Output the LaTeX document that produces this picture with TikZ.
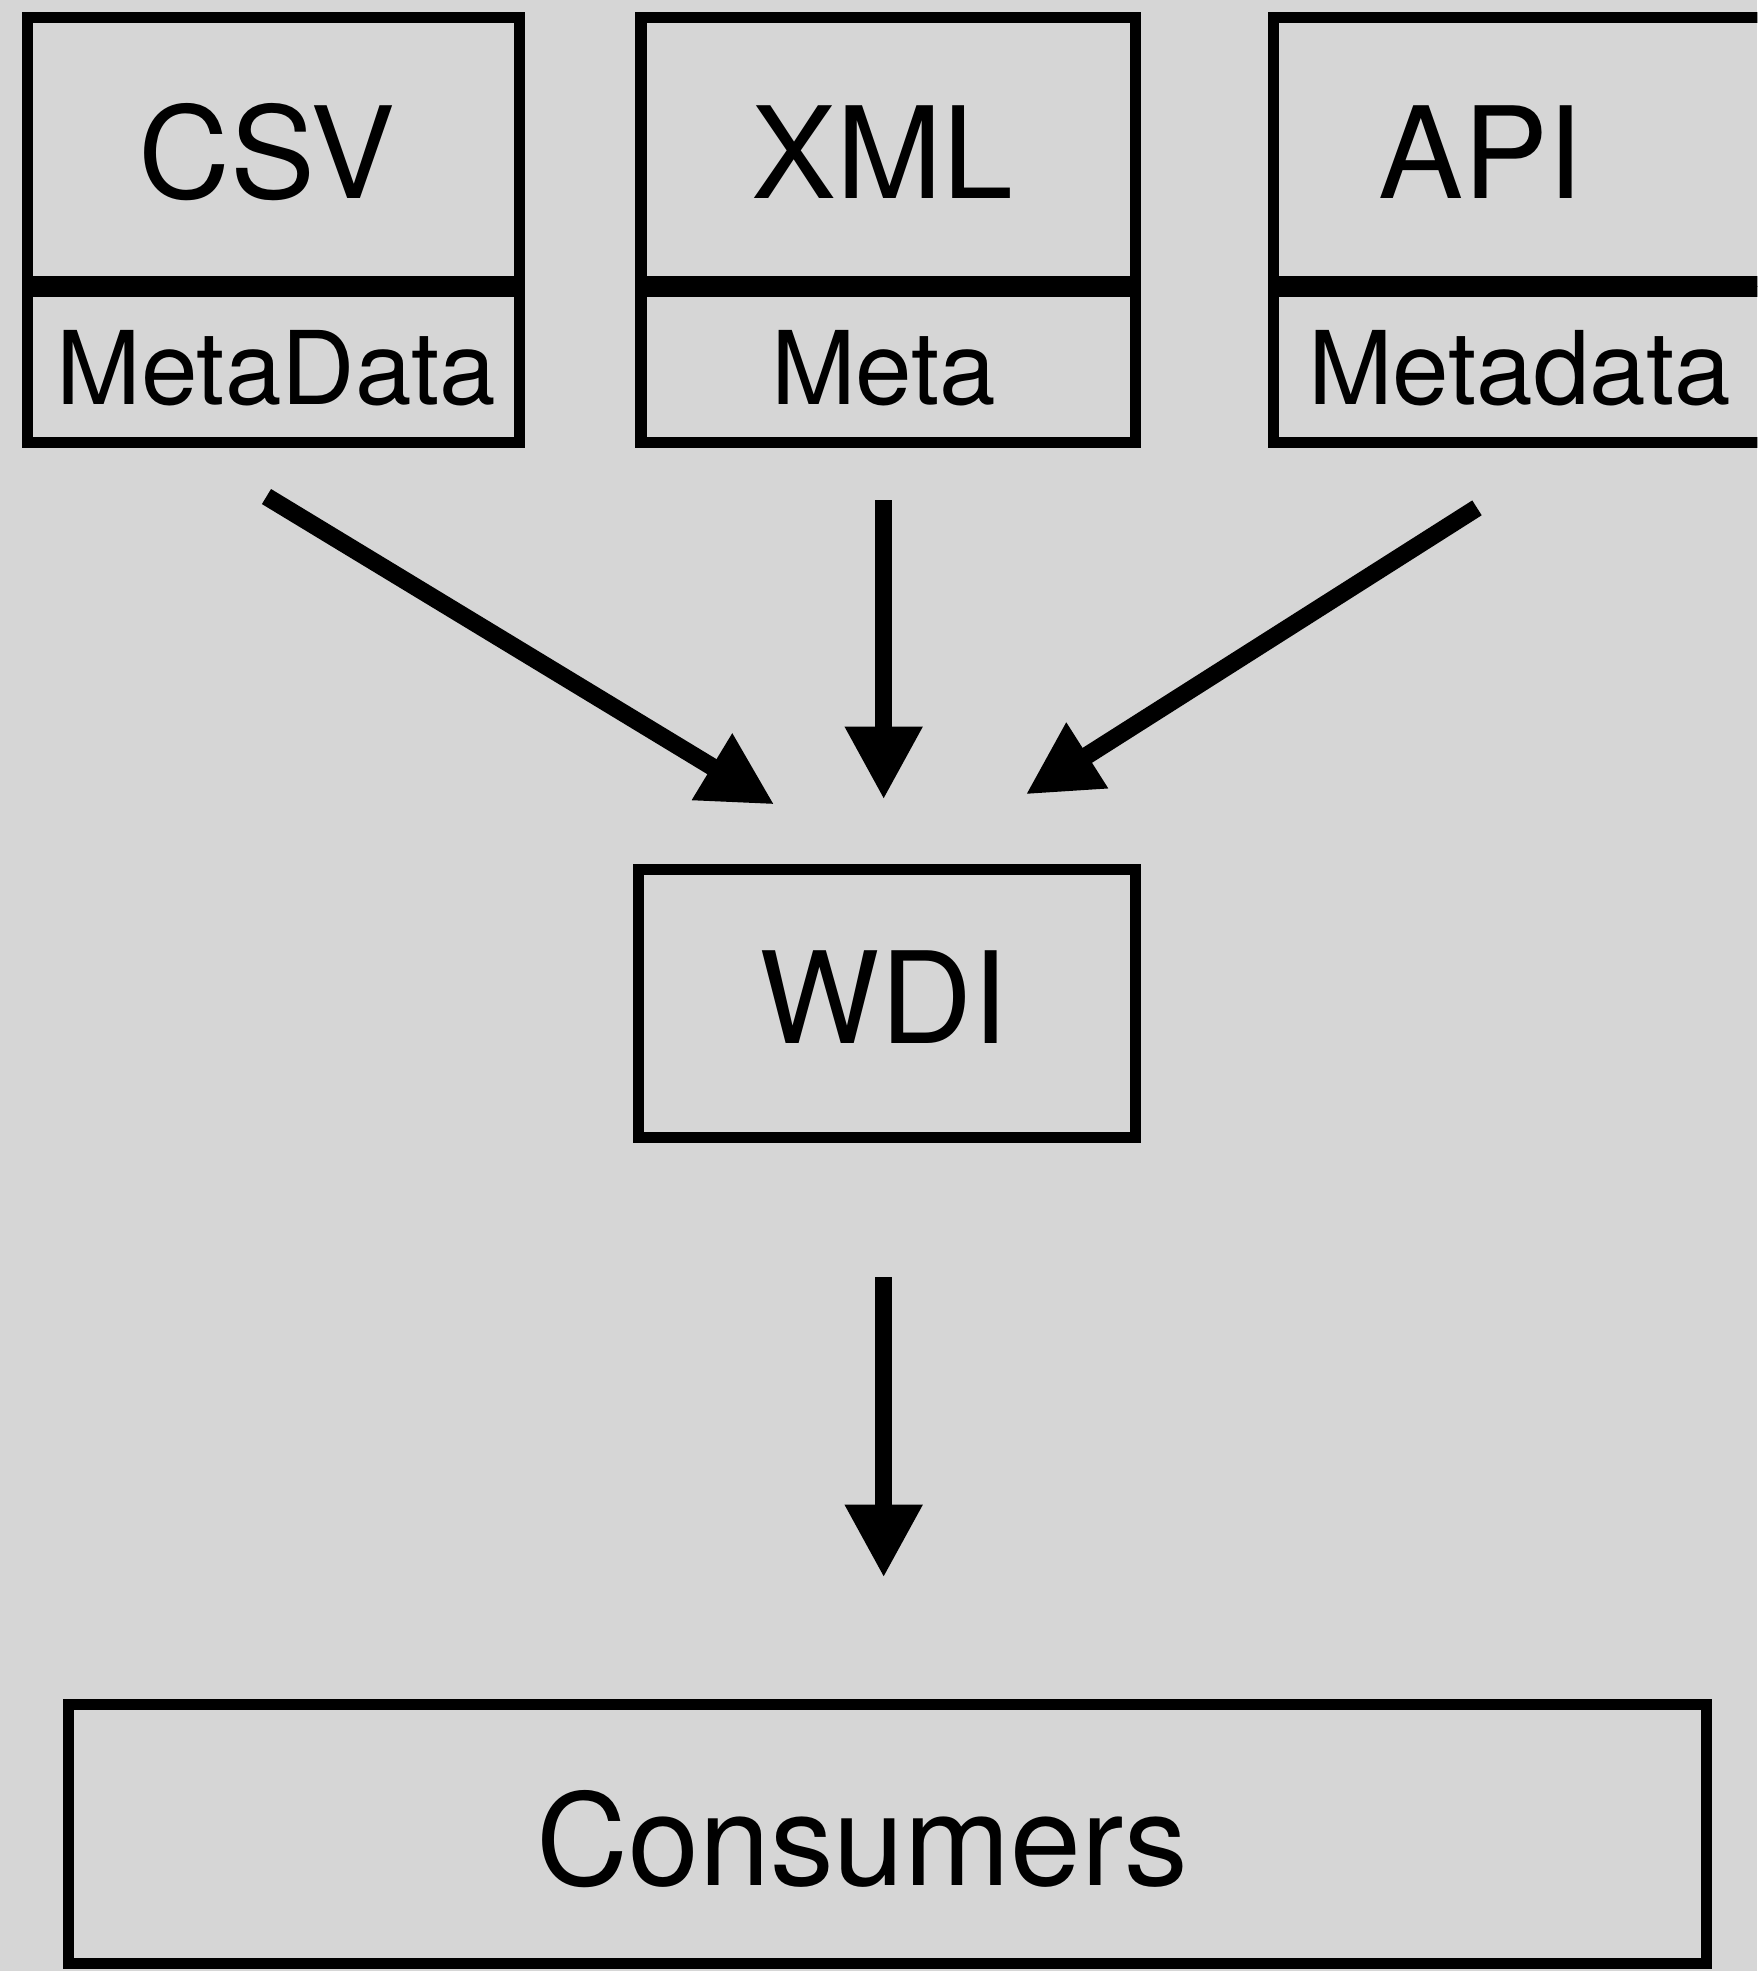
\documentclass[tikz,border=0pt]{standalone}
\usepackage{fontspec}
\setmainfont{TeX Gyre Heros}
\usetikzlibrary{arrows.meta}
\definecolor{bggray}{HTML}{D6D6D6}
\tikzset{
  box/.style={draw=black, line width=0.09cm, inner sep=0pt, rectangle},
  bigtxt/.style={inner sep=0pt, anchor=base, font=\fontsize{28.8}{34}\selectfont},
  smalltxt/.style={inner sep=0pt, anchor=base, font=\fontsize{23}{27}\selectfont},
  flow/.style={line width=0.14cm, -{Triangle[length=16.5pt,width=16.5pt]}}
}
\begin{document}
\begin{tikzpicture}[x=0.01cm,y=-0.01cm]
\useasboundingbox (0,0) rectangle (1398,1568);
\fill[bggray] (0,0) rectangle (1398,1568);
\clip (0,0) rectangle (1398,1568);
% source boxes
\node[box, minimum width=3.91cm, minimum height=2.10cm] (csvtop) at (217.5,119) {};
\node[box, minimum width=3.91cm, minimum height=1.20cm] (csvmeta) at (217.5,292) {};
\node[box, minimum width=3.93cm, minimum height=2.10cm] (xmltop) at (706.5,119) {};
\node[box, minimum width=3.93cm, minimum height=1.20cm] (xmlmeta) at (706.5,292) {};
\node[box, minimum width=4.17cm, minimum height=2.10cm] (apitop) at (1221.5,119) {};
\node[box, minimum width=4.17cm, minimum height=1.20cm] (apimeta) at (1221.5,292) {};
\node[box, minimum width=3.95cm, minimum height=2.13cm] (wdi) at (705.5,798.5) {};
\node[box, minimum width=13.02cm, minimum height=2.06cm] (cons) at (706,1459) {};
% texts
\node[bigtxt] (csvtxt) at (212,158) {CSV};
\node[bigtxt] (xmltxt) at (702,158) {XML};
\node[bigtxt] (apitxt) at (1178,158) {API};
\node[smalltxt] (csvmtxt) at (220,322) {MetaData};
\node[smalltxt] (xmlmtxt) at (703,322) {Meta};
\node[smalltxt] (apimtxt) at (1209,322) {Metadata};
\node[bigtxt] (wditxt) at (703,830) {WDI};
\node[bigtxt] (constxt) at (686,1500) {Consumers};
% arrow end points
\coordinate (a1s) at (212,395);
\coordinate (a1e) at (616,640);
\coordinate (a2s) at (703,398);
\coordinate (a2e) at (703,636);
\coordinate (a3s) at (1175,404);
\coordinate (a3e) at (816,632);
\coordinate (a4s) at (703,1016);
\coordinate (a4e) at (703,1255);
\draw[flow] (a1s) -- (a1e);
\draw[flow] (a2s) -- (a2e);
\draw[flow] (a3s) -- (a3e);
\draw[flow] (a4s) -- (a4e);
\end{tikzpicture}
\end{document}
